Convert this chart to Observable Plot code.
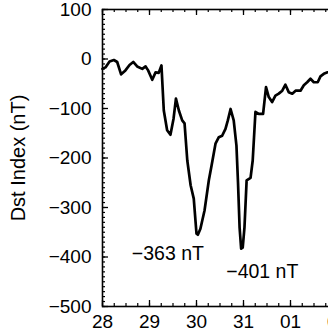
<!DOCTYPE html>
<html>
<head>
<meta charset="utf-8">
<script src="https://cdn.jsdelivr.net/npm/d3@7"></script>
<script src="https://cdn.jsdelivr.net/npm/@observablehq/plot@0.6"></script>
<style>
  html, body { margin: 0; padding: 0; background: #fff; overflow: hidden; }
  #chart { width: 328px; height: 333px; overflow: hidden; }
  #chart svg { max-width: none !important; width: 357px !important; height: 333px !important; }
</style>
</head>
<body>
<div id="chart"></div>
<script>
// Hours since 28 Oct 00 UT
const hours = [0, 1.5, 3.6, 5.8, 7.5, 9.5, 11.7, 13.8, 15.7, 17.7, 20.3, 22, 23.3, 25.4, 27.1, 28.7, 30.1, 31.3, 33, 34.7, 36.3, 37.5, 39, 40.7, 41.9, 43.3, 45, 46.6, 48, 48.7, 50, 52.1, 54.3, 55.7, 57.7, 59.4, 61.1, 62.8, 64, 65.4, 67, 68.4, 69.2, 70, 70.8, 71.6, 72.5, 73.6, 75.6, 76.7, 78.1, 79.8, 82, 83.5, 84.9, 86.6, 88.3, 90, 91.8, 93.4, 95.1, 96.9, 98.6, 101.1, 102.8, 104.5, 106.2, 107.9, 109.9, 111.3, 113, 114.9, 117.5];
const dst = [-20, -17, -5, -2, -6, -31, -23, -12, -6, -15, -20, -15, -23, -42, -27, -28, -13, -104, -144, -153, -120, -80, -104, -124, -130, -205, -255, -282, -353, -355, -343, -306, -245, -215, -171, -158, -155, -141, -124, -101, -124, -175, -250, -340, -383, -381, -340, -245, -240, -205, -107, -111, -111, -57, -77, -87, -74, -70, -64, -52, -67, -70, -64, -64, -53, -47, -40, -47, -47, -35, -30, -27, -25];

const dayLabels = ["28", "29", "30", "31", "01", "02"];
const majorX = [0, 24, 48, 72, 96, 120];
const minorX = d3.range(0, 121, 6);
const majorY = [-500, -400, -300, -200, -100, 0, 100];
const minorY = d3.range(-500, 101, 10);

const noteText = ["\u2212363 nT", "\u2212401 nT"];
const noteHour = [33.4, 81.6];
const noteDst = [-393, -429];

const data = hours.map((h, i) => ({h, v: dst[i]}));
const notes = noteText.map((t, i) => ({t, h: noteHour[i], v: noteDst[i]}));
const fmt = d => d < 0 ? "\u2212" + Math.abs(d) : String(d);
const font = "'Liberation Sans', Arial, Helvetica, sans-serif";

const W = 357, H = 333, mL = 102, mT = 9, mB = 27, mR = 20;
const pw = W - mL - mR, ph = H - mT - mB;

const chart = Plot.plot({
  width: W,
  height: H,
  marginLeft: mL,
  marginTop: mT,
  marginBottom: mB,
  marginRight: mR,
  style: {fontFamily: font, fontSize: "19px", color: "black", background: "white", maxWidth: "none"},
  x: {domain: [0, 120]},
  y: {domain: [-500, 100]},
  marks: [
    // inward tick marks (left, bottom, top)
    Plot.tickY(minorY, {y: d => d, stroke: "black", strokeWidth: 1.2, insetRight: pw - 3}),
    Plot.tickY(majorY, {y: d => d, stroke: "black", strokeWidth: 1.3, insetRight: pw - 6}),
    Plot.tickX(minorX, {x: d => d, stroke: "black", strokeWidth: 1.2, insetTop: ph - 3}),
    Plot.tickX(majorX, {x: d => d, stroke: "black", strokeWidth: 1.3, insetTop: ph - 6}),
    Plot.tickX(minorX, {x: d => d, stroke: "black", strokeWidth: 1.2, insetBottom: ph - 3}),
    Plot.tickX(majorX, {x: d => d, stroke: "black", strokeWidth: 1.3, insetBottom: ph - 6}),
    Plot.frame({stroke: "black", strokeWidth: 1.6}),
    Plot.axisY({ticks: majorY, tickSize: 0, tickPadding: 11, tickFormat: fmt, fontSize: 19, label: null}),
    Plot.axisY({ticks: [], tickSize: 0, fontSize: 20,
      label: "Dst Index (nT)", labelAnchor: "center", labelOffset: 92, labelArrow: "none"}),
    Plot.axisX({ticks: majorX, tickSize: 0, tickPadding: 8, fontSize: 19,
      tickFormat: d => dayLabels[Math.round(d / 24)], label: null}),
    Plot.line(data, {x: "h", y: "v", stroke: "black", strokeWidth: 2.7, strokeLinejoin: "round"}),
    Plot.text(notes, {x: "h", y: "v", text: "t", fontSize: 19.5, fill: "black"})
  ]
});
document.getElementById("chart").appendChild(chart);
</script>
</body>
</html>
